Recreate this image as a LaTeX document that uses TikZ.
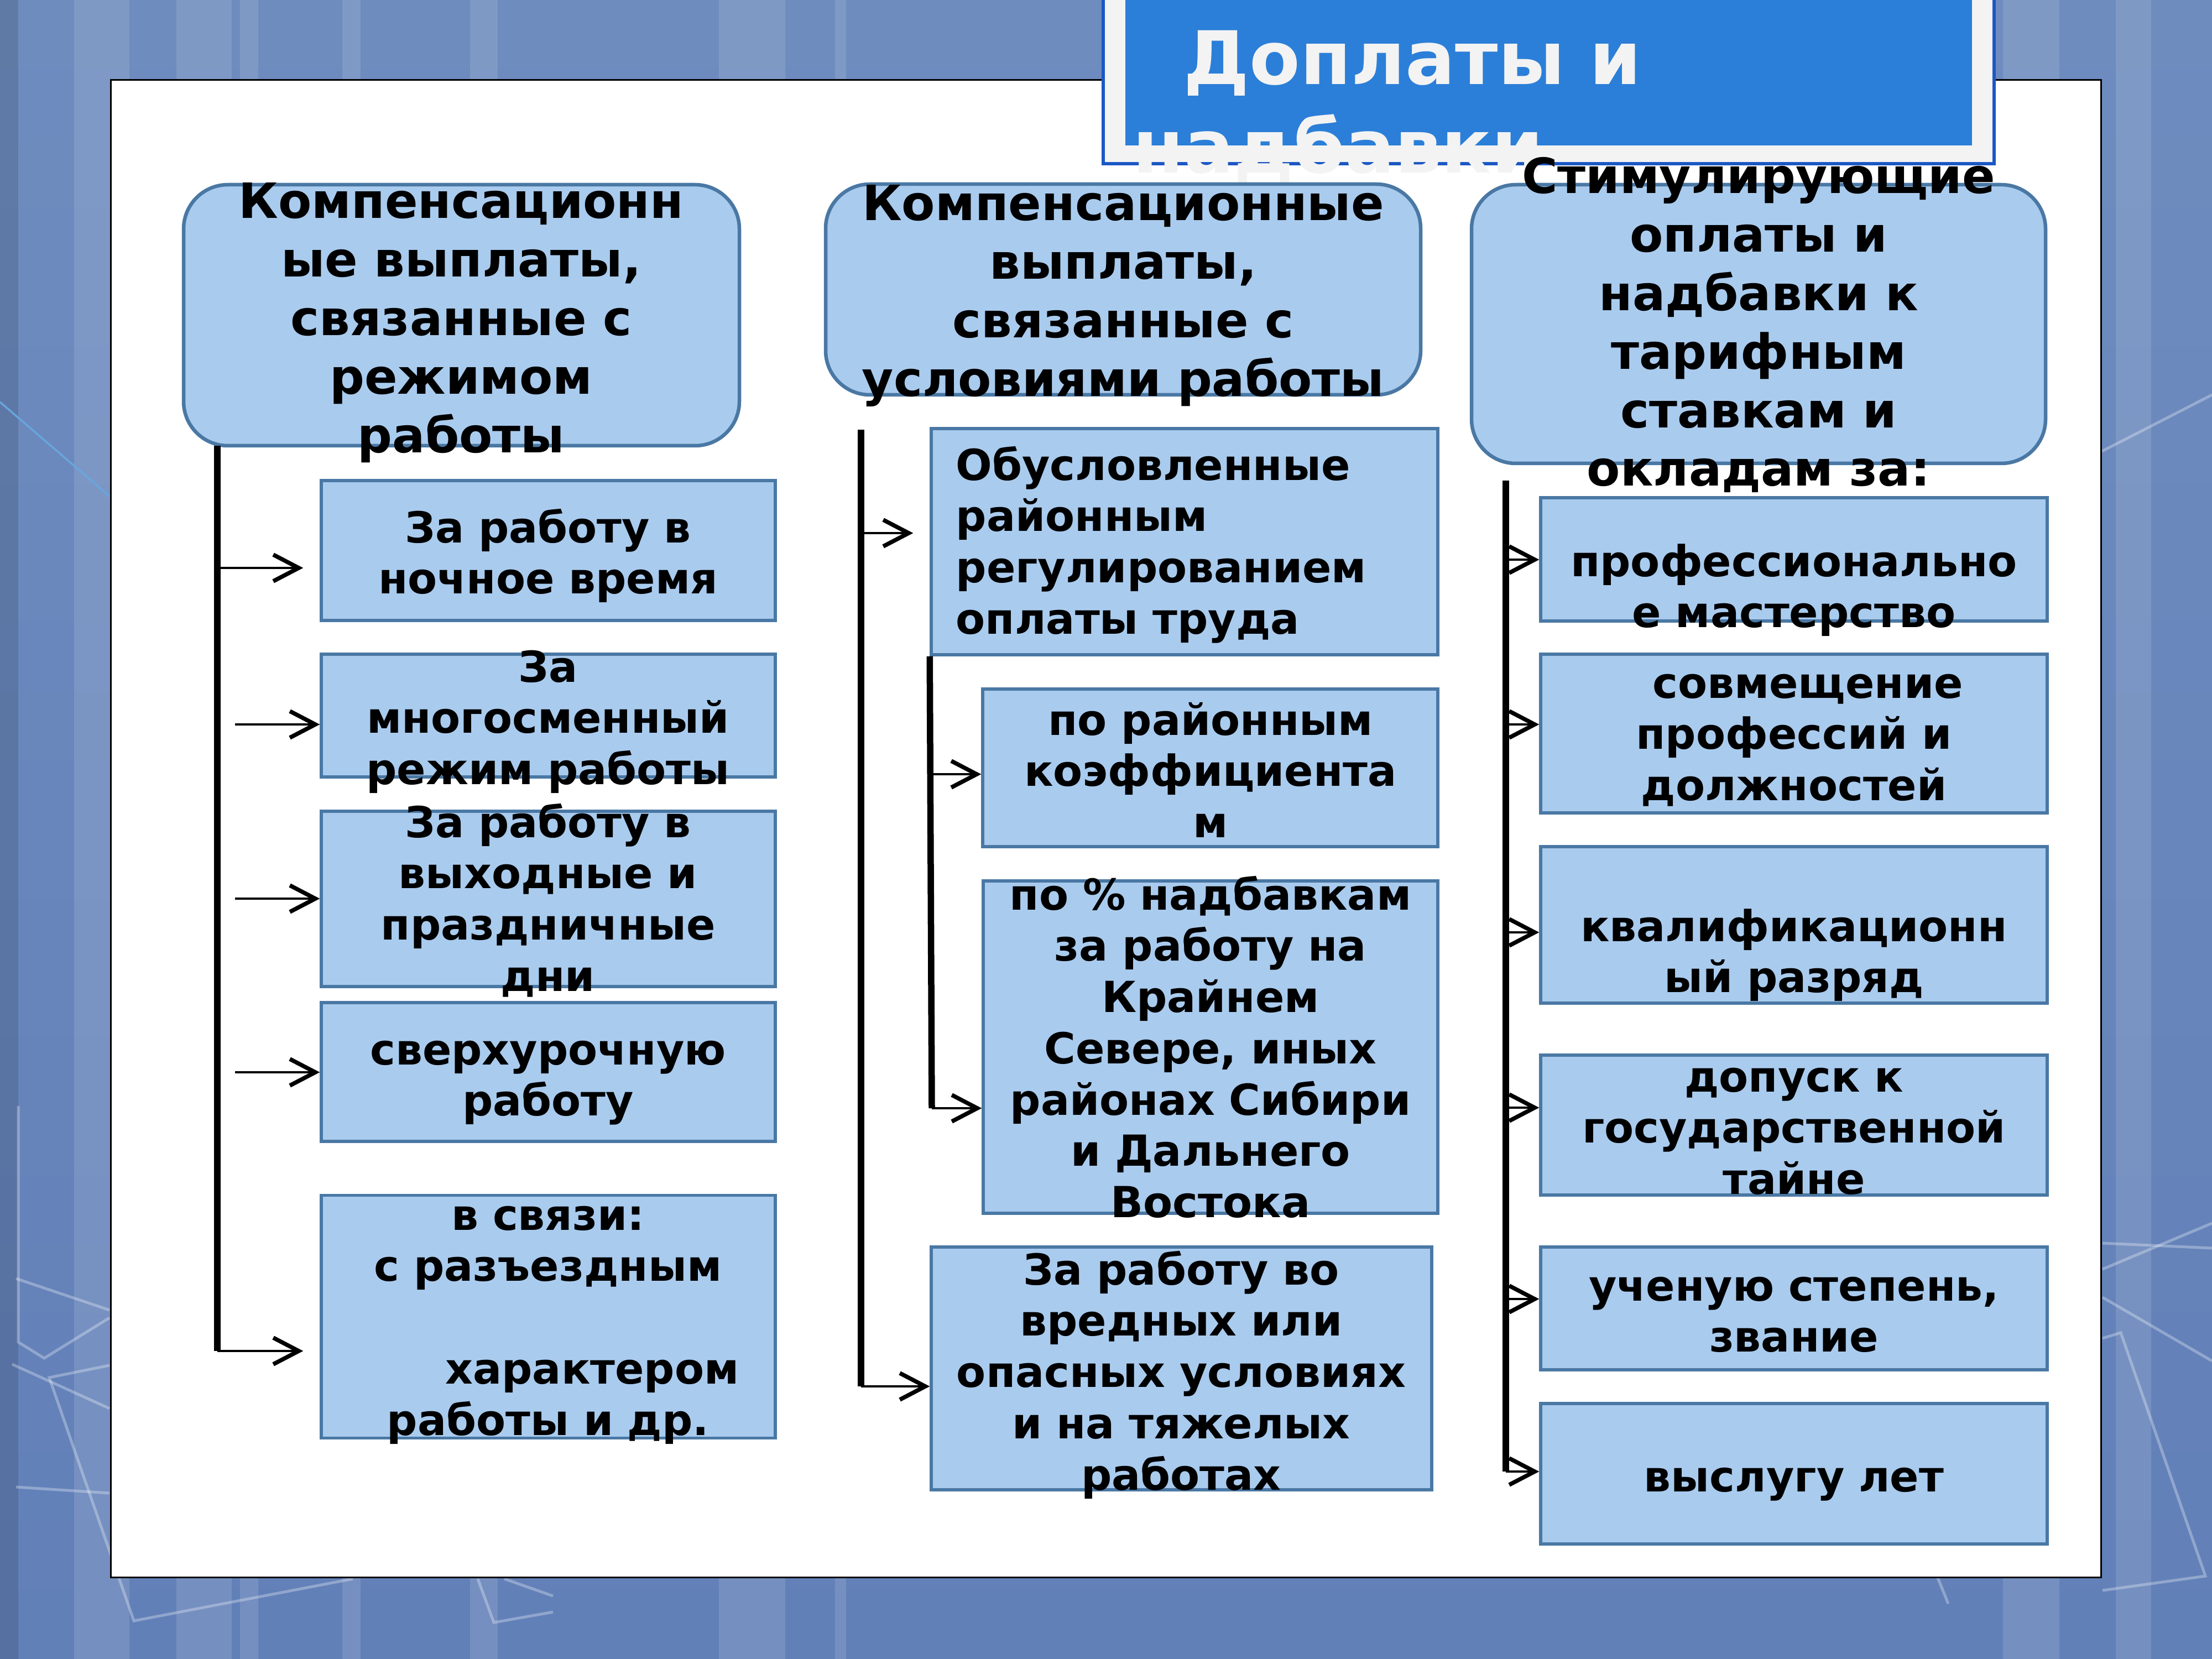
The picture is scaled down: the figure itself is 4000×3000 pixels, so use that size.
\documentclass[tikz,border=0pt]{standalone}
\usepackage{fontspec}
\setmainfont{DejaVu Sans}
\usepackage{tikz}
\usetikzlibrary{arrows.meta}
\newcommand{\trunkw}{1.15mm}
\newcommand{\shaftw}{0.4mm}
\newcommand{\edgew}{0.55mm}
\newcommand{\bodysize}{\fontsize{22}{26.4}\selectfont\bfseries}
\newcommand{\headsize}{\fontsize{25}{30.1}\selectfont\bfseries}
\newcommand{\titlesize}{\fontsize{38}{45.4}\selectfont\bfseries}
\definecolor{cellfill}{RGB}{169,203,238}
\definecolor{celledge}{RGB}{74,120,164}
\definecolor{titleblue}{RGB}{43,127,216}
\definecolor{titleband}{RGB}{243,243,243}
\definecolor{titleedge}{RGB}{28,88,196}
\definecolor{bgtop}{RGB}{110,140,190}
\definecolor{bgmid}{RGB}{135,170,226}
\definecolor{bgbot}{RGB}{98,128,184}
\definecolor{diag}{RGB}{105,165,222}

\begin{document}
\begin{tikzpicture}[x=0.1mm,y=-0.1mm,
    cell/.style={draw=celledge, fill=cellfill, line width=\edgew, inner sep=0pt},
    head/.style={cell, rounded corners=8mm, line width=0.65mm},
    txt/.style={text width=100mm, align=center, anchor=base, inner sep=0pt, font=\bodysize},
    headtxt/.style={txt, text width=120mm, font=\headsize},
    trunk/.style={line width=\trunkw},
    arr/.style={line width=\shaftw, -{Straight Barb[length=4.6mm,width=4.8mm,line width=0.75mm]}},
    stripe/.style={fill=white, opacity=0.12},
    deco/.style={draw=white, opacity=0.3, line width=0.5mm}]
\useasboundingbox (0,0) rectangle (4000,3000);

% background
\shade[top color=bgtop, middle color=bgmid, bottom color=bgbot] (0,0) rectangle (4000,3000);
\fill[black, opacity=0.12] (0,0) rectangle (33,3000);
\foreach \xa/\xb in {134/234, 319/419, 434/467, 619/652, 850/900, 1300/1420, 1510/1530, 3622/3724, 3826/3890}
  \fill[stripe] (\xa,0) rectangle (\xb,3000);
\draw[deco] (29,2312) -- (198,2369);
\draw[deco] (33,2000) -- (33,2427) -- (80,2456) -- (198,2383);
\draw[deco] (22,2467) -- (198,2547);
\draw[deco] (198,2469) -- (89,2491) -- (242,2931) -- (638,2855);
\draw[deco] (29,2689) -- (198,2700);
\draw[deco] (864,2855) -- (893,2934) -- (1000,2915);
\draw[deco] (912,2855) -- (1000,2886);
\draw[deco] (3802,2248) -- (4000,2257);
\draw[deco] (3802,2295) -- (4000,2212);
\draw[deco] (3802,2346) -- (4000,2461);
\draw[deco] (3802,2420) -- (3835,2410) -- (3988,2850) -- (3802,2876);
\draw[deco] (3504,2853) -- (3523,2900);
\draw[deco] (3801,816) -- (4000,714);
\draw[diag, line width=0.35mm] (0,727) -- (228,923);

% panel and title
\fill[white, draw=black, line width=0.3mm] (200,145) rectangle (3799,2852);
\fill[titleband, draw=titleedge, line width=0.6mm] (1995,-30) rectangle (3606,296);
\fill[titleblue] (2035,-30) rectangle (3566,263);
\node[text width=150mm, align=left, anchor=base west, inner sep=0pt, text=titleband, font=\titlesize]
  (ttl) at (2048,153) {\hspace*{9.2mm}Доплаты и\\надбавки};

% headers
\node[head, minimum width=100.5mm, minimum height=47.2mm] (hr) at (834.5,570) {};
\node[head, minimum width=107.6mm, minimum height=38.1mm] (hu) at (2031,523.5) {};
\node[head, minimum width=103.8mm, minimum height=50.4mm] (hs) at (3180,586) {};

% boxes
\node[cell, minimum width=82.1mm, minimum height=25.3mm] (r1) at (991.5,995.5) {};
\node[cell, minimum width=82.1mm, minimum height=22.2mm] (r2) at (991.5,1294) {};
\node[cell, minimum width=82.1mm, minimum height=31.7mm] (r3) at (991.5,1625.5) {};
\node[cell, minimum width=82.1mm, minimum height=25.1mm] (r4) at (991.5,1938.5) {};
\node[cell, minimum width=82.1mm, minimum height=43.9mm] (r5) at (991.5,2381) {};

\node[cell, minimum width=91.6mm, minimum height=40.9mm] (u1) at (2142,979.5) {};
\node[cell, minimum width=82.3mm, minimum height=28.5mm] (u2) at (2188.5,1388.5) {};
\node[cell, minimum width=82.2mm, minimum height=60.1mm] (u3) at (2189,1893.5) {};
\node[cell, minimum width=90.5mm, minimum height=43.9mm] (u4) at (2136.5,2474.5) {};

\node[cell, minimum width=91.6mm, minimum height=22.3mm] (s1) at (3244,1011.5) {};
\node[cell, minimum width=91.6mm, minimum height=28.7mm] (s2) at (3244,1326.5) {};
\node[cell, minimum width=91.6mm, minimum height=28.3mm] (s3) at (3244,1672.5) {};
\node[cell, minimum width=91.6mm, minimum height=25.3mm] (s4) at (3244,2034.5) {};
\node[cell, minimum width=91.6mm, minimum height=22.2mm] (s5) at (3244,2366) {};
\node[cell, minimum width=91.6mm, minimum height=25.4mm] (s6) at (3244,2665) {};

% trunks and arrows
\coordinate (rtop) at (393,806);
\coordinate (rbot) at (393,2443);
\draw[trunk] (rtop) -- (rbot);
\coordinate (ra1) at (398,1027);
\coordinate (ra2) at (425,1310);
\coordinate (ra3) at (425,1625);
\coordinate (ra4) at (425,1939);
\draw[arr, shorten >=3mm] (ra1) -- (ra1 -| r1.west);
\draw[arr] (ra2) -- (ra2 -| r2.west);
\draw[arr] (ra3) -- (ra3 -| r3.west);
\draw[arr] (ra4) -- (ra4 -| r4.west);
\draw[arr, shorten >=3mm] (rbot) -- (rbot -| r5.west);

\coordinate (utop) at (1557,777);
\coordinate (ubot) at (1557,2507);
\coordinate (ibot) at (1685,2004);
\draw[trunk] (utop) -- (ubot);
\draw[trunk] (u1.south west) -- (ibot);
\coordinate (ua1) at (1557,964);
\coordinate (ua2) at (1685,1400);
\draw[arr, shorten >=3mm] (ua1) -- (ua1 -| u1.west);
\draw[arr] (ua2) -- (ua2 -| u2.west);
\draw[arr] (ibot) -- (ibot -| u3.west);
\draw[arr] (ubot) -- (ubot -| u4.west);

\coordinate (stop) at (2723,869);
\coordinate (sbot) at (2723,2661);
\draw[trunk] (stop) -- (sbot);
\foreach \yy/\bx in {1012/s1, 1310/s2, 1686/s3, 2003/s4, 2349/s5}
  \draw[arr] (2723,\yy) -- (2723,\yy -| \bx.west);
\draw[arr] (sbot) -- (sbot -| s6.west);

% texts
\node[headtxt] (hr-t) at (834,395) {Компенсационн\\ые выплаты,\\связанные с\\режимом\\работы};
\node[headtxt] (hu-t) at (2031,399) {Компенсационные\\выплаты,\\связанные с\\условиями работы};
\node[headtxt] (hs-t) at (3180,350) {Стимулирующие\\оплаты и\\надбавки к\\тарифным\\ставкам и\\окладам за:};

\node[txt] (r1-t) at (991,981) {За работу в\\ночное время};
\node[txt] (r2-t) at (991,1233) {За\\многосменный\\режим работы};
\node[txt] (r3-t) at (991,1514) {За работу в\\выходные и\\праздничные\\дни};
\node[txt] (r4-t) at (991,1925) {сверхурочную\\работу};
\node[txt] (r5-t) at (991,2224) {в связи:\\с разъездным\\[9.3mm]\hspace*{16mm}характером\\работы и др.};

\node[txt, align=left, anchor=base west] (u1-t) at (1728,868) {Обусловленные\\районным\\регулированием\\оплаты труда};
\node[txt] (u2-t) at (2189,1329) {по районным\\коэффициента\\м};
\node[txt] (u3-t) at (2189,1645) {по \% надбавкам\\за работу на\\Крайнем\\Севере, иных\\районах Сибири\\и Дальнего\\Востока};
\node[txt] (u4-t) at (2136,2323) {За работу во\\вредных или\\опасных условиях\\и на тяжелых\\работах};

\node[txt] (s1-t) at (3244,1042) {профессионально\\е мастерство};
\node[txt] (s2-t) at (3244,1262) {\hspace*{5mm}совмещение\\профессий и\\должностей};
\node[txt] (s3-t) at (3244,1702) {квалификационн\\ый разряд};
\node[txt] (s4-t) at (3244,1974) {допуск к\\государственной\\тайне};
\node[txt] (s5-t) at (3244,2352) {ученую степень,\\звание};
\node[txt] (s6-t) at (3244,2697) {выслугу лет};
\end{tikzpicture}
\end{document}
